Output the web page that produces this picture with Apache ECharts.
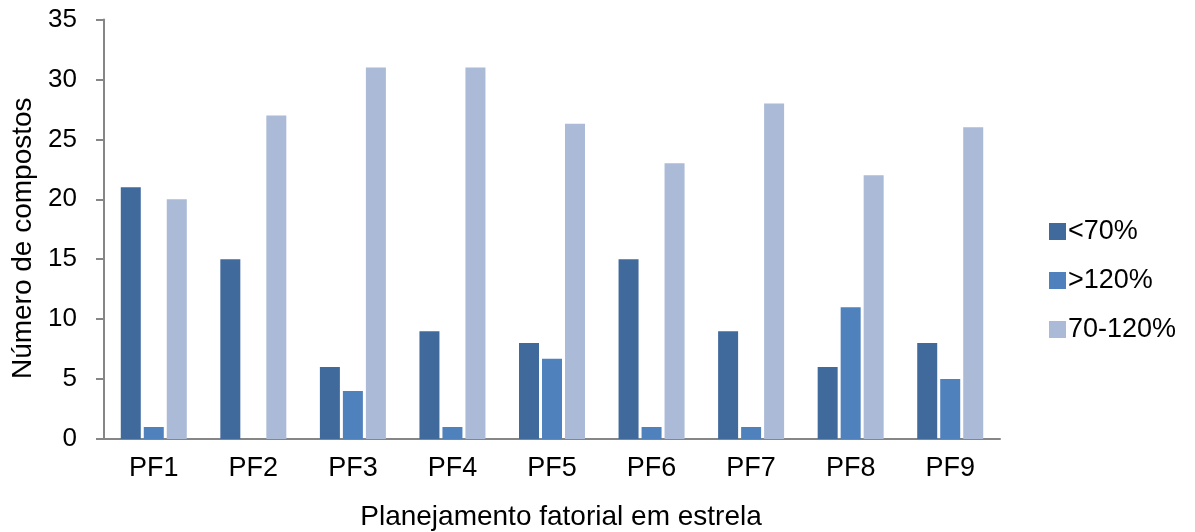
<!DOCTYPE html>
<html>
<head>
<meta charset="utf-8">
<script src="https://cdn.jsdelivr.net/npm/echarts@6/dist/echarts.min.js"></script>
<style>
html,body{margin:0;padding:0;background:#fff;}
#c{width:1195px;height:532px;}
</style>
</head>
<body>
<div id="c"></div>
<script>
const categories = ['PF1','PF2','PF3','PF4','PF5','PF6','PF7','PF8','PF9'];
const seriesNames = ['<70%', '>120%', '70-120%'];
const below70 = [21, 15, 6, 9, 8, 15, 9, 6, 8];
const above120 = [1, 0, 4, 1, 6.7, 1, 1, 11, 5];
const within = [20, 27, 31, 31, 26.3, 23, 28, 22, 26];
const yTicks = [0, 5, 10, 15, 20, 25, 30, 35];

const colors = ['#416A9C', '#4F81BD', '#AABAD7'];
const font = 'Liberation Sans, Arial, sans-serif';
const chart = echarts.init(document.getElementById('c'));
const dataSets = [below70, above120, within];

chart.setOption({
  animation: false,
  textStyle: { fontFamily: font },
  grid: { left: 104, right: 195, top: 19.5, bottom: 93, containLabel: false, outerBoundsMode: 'none' },
  legend: {
    orient: 'vertical',
    left: 1049,
    top: 218,
    padding: 0,
    itemWidth: 17,
    itemHeight: 17,
    itemGap: 22,
    icon: 'rect',
    textStyle: { fontSize: 27, color: '#000', fontFamily: font, padding: [0, 0, 0, -3] },
    data: seriesNames
  },
  xAxis: {
    type: 'category',
    data: categories,
    name: 'Planejamento fatorial em estrela',
    nameLocation: 'middle',
    nameGap: 64,
    nameTextStyle: { fontSize: 28, color: '#000', fontFamily: font, padding: [0, 0, 0, 18] },
    axisLine: { lineStyle: { color: '#868686', width: 2 } },
    axisTick: { show: false },
    axisLabel: { fontSize: 27, color: '#000', margin: 16, fontFamily: font }
  },
  yAxis: {
    type: 'value',
    min: yTicks[0],
    max: yTicks[yTicks.length - 1],
    interval: 5,
    name: 'Número de compostos',
    nameLocation: 'middle',
    nameGap: 60,
    nameTextStyle: { fontSize: 28, color: '#000', fontFamily: font, padding: [0, 18, 0, 0] },
    axisLine: { show: true, lineStyle: { color: '#868686', width: 2 } },
    axisTick: { show: true, length: 8, lineStyle: { color: '#868686', width: 2 } },
    splitLine: { show: false },
    axisLabel: { fontSize: 26, color: '#000', margin: 27, fontFamily: font }
  },
  series: seriesNames.map((n, i) => ({
    name: n,
    type: 'bar',
    data: dataSets[i],
    barWidth: 20,
    barGap: '15%',
    itemStyle: { color: colors[i] }
  }))
});
</script>
</body>
</html>
